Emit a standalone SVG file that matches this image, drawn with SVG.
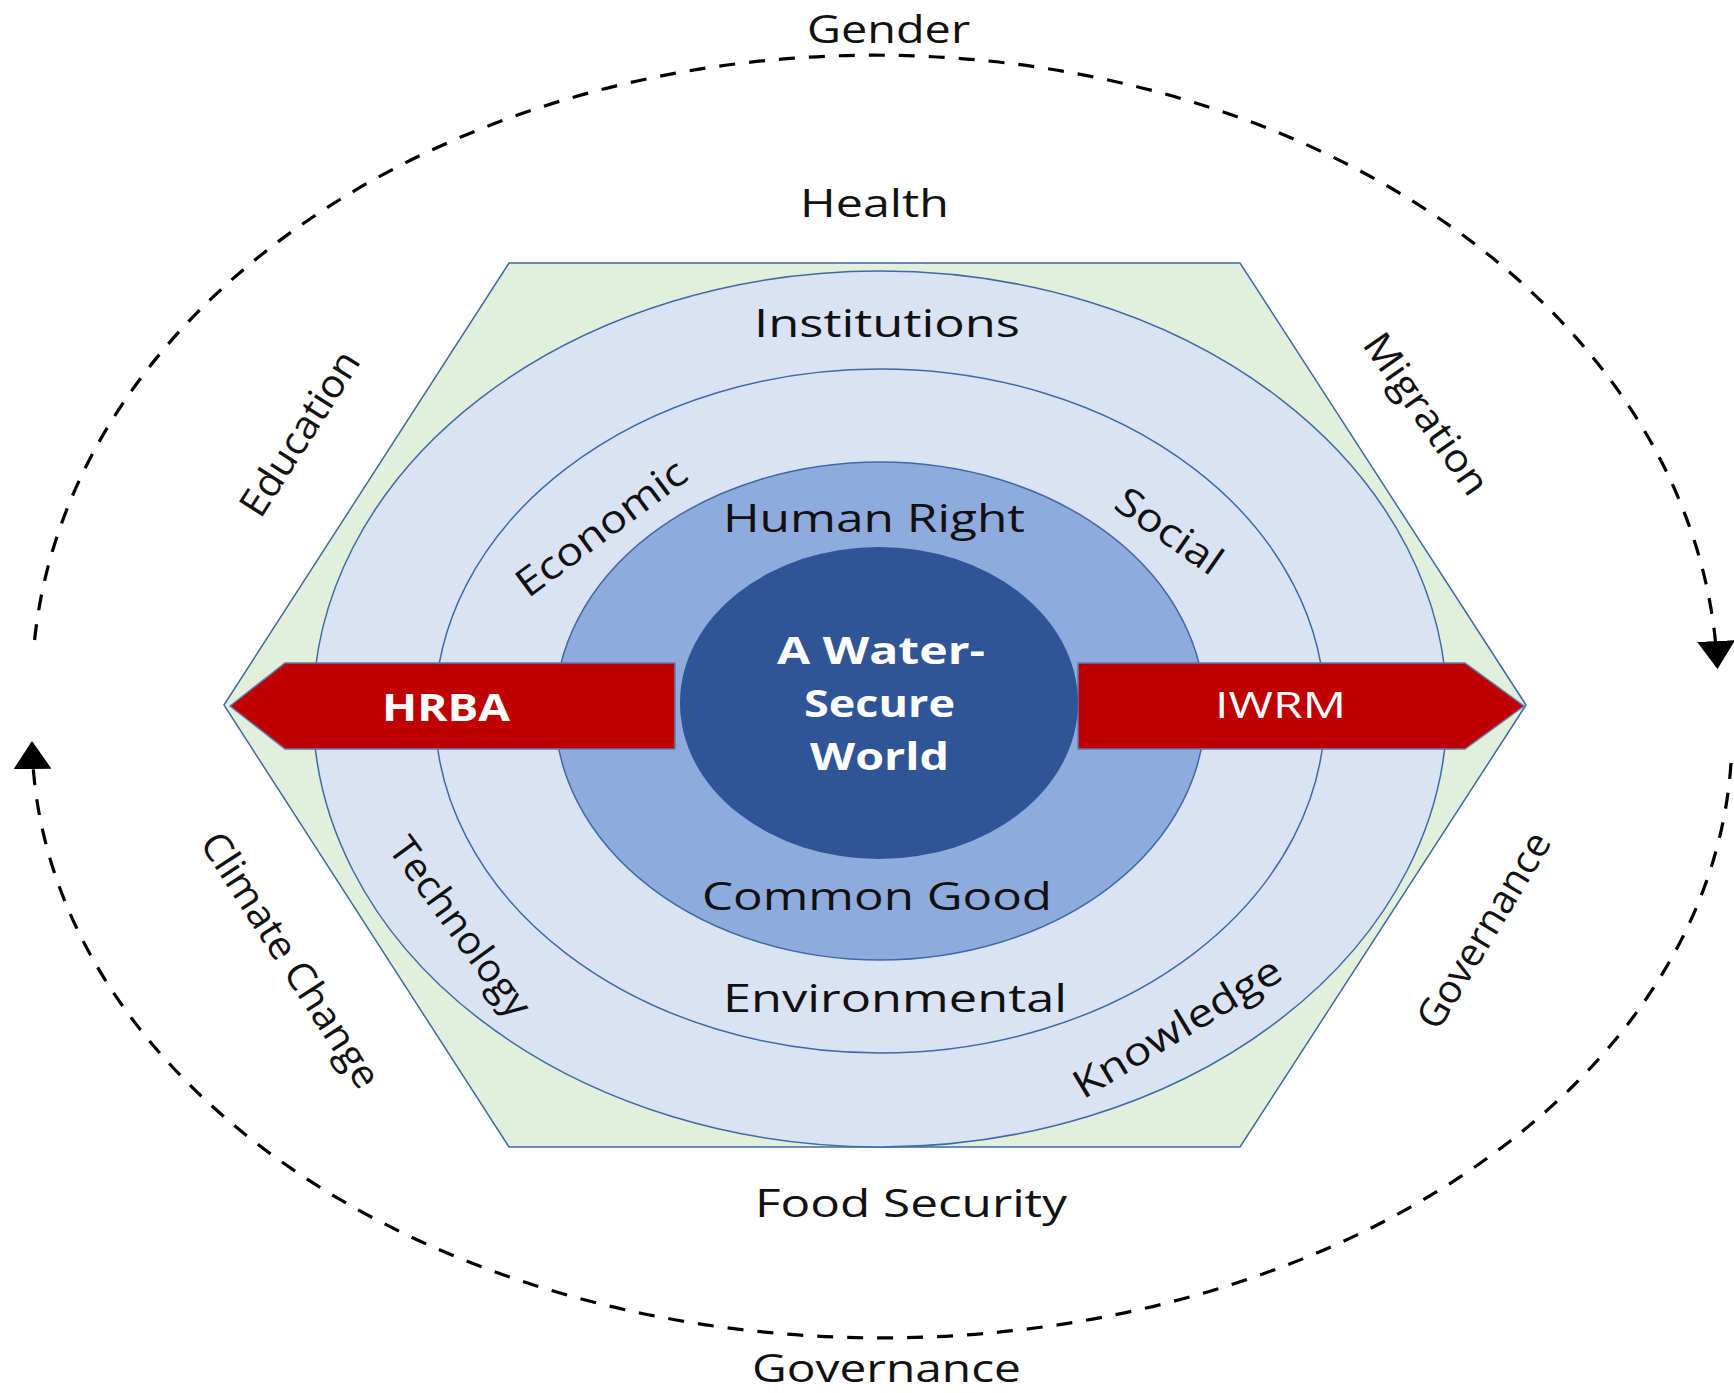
<svg xmlns="http://www.w3.org/2000/svg" width="1734" height="1393" viewBox="0 0 1734 1393">
<defs>
<style>
.t{font-family:"Open Sans","Noto Sans","Liberation Sans",sans-serif;font-size:39px;fill:#111;}
.w{font-family:"Open Sans","Noto Sans","Liberation Sans",sans-serif;font-size:37px;fill:#fff;font-weight:bold;}
.ring{stroke:#3E6AA8;stroke-width:1.5;}
.dash{fill:none;stroke:#000;stroke-width:3.2;stroke-dasharray:16 14;}
.arr{fill:#C00000;stroke:#5B7DB1;stroke-width:1.5;}
</style>
<marker id="ah" markerUnits="userSpaceOnUse" markerWidth="28" markerHeight="38" viewBox="0 0 28 38" refX="26" refY="19" orient="auto">
<path d="M0,0 L28,19 L0,38 z" fill="#000"/>
</marker>
</defs>
<rect width="1734" height="1393" fill="#fff"/>

<g id="connectors">
<path class="dash" d="M 34.6 640 A 843 635 0 0 1 1717.4 667" marker-end="url(#ah)"/>
<path class="dash" d="M 1731 763 A 850 603 0 0 1 32 743" marker-end="url(#ah)"/>
</g>

<g id="hexagon">
<polygon points="224,705 509,263 1240,263 1526,705 1240,1147 509,1147" fill="#E2EFDA" class="ring"/>
</g>
<g id="ring-outer">
<ellipse cx="880" cy="709" rx="567" ry="438" fill="#DAE3F3" class="ring"/>
</g>
<g id="ring-middle">
<ellipse cx="880" cy="711" rx="445" ry="342" fill="#DAE3F3" class="ring"/>
</g>
<g id="ring-inner">
<ellipse cx="880" cy="711" rx="325" ry="249" fill="#8FAADC" class="ring"/>
</g>
<g id="arrow-hrba">
<polygon class="arr" points="230,706 285,663 675,663 675,749 285,749"/>
<text class="w" x="382" y="721" textLength="128" lengthAdjust="spacingAndGlyphs">HRBA</text>
</g>
<g id="arrow-iwrm">
<polygon class="arr" points="1078,663 1465,663 1524,706 1465,749 1078,749"/>
<text class="w" style="font-weight:normal" x="1215" y="718" textLength="131" lengthAdjust="spacingAndGlyphs">IWRM</text>
</g>
<g id="core">
<ellipse cx="879" cy="703" rx="199" ry="156" fill="#2F5597"/>
<text class="w" x="777" y="664" textLength="208" lengthAdjust="spacingAndGlyphs">A Water-</text>
<text class="w" x="804" y="717" textLength="151" lengthAdjust="spacingAndGlyphs">Secure</text>
<text class="w" x="810" y="770" textLength="139" lengthAdjust="spacingAndGlyphs">World</text>
</g>

<g id="labels-inner">
<text class="t" x="723" y="532" textLength="302" lengthAdjust="spacingAndGlyphs">Human Right</text>
<text class="t" x="702" y="910" textLength="350" lengthAdjust="spacingAndGlyphs">Common Good</text>
</g>
<g id="labels-middle">
<text class="t" x="723" y="1012" textLength="344" lengthAdjust="spacingAndGlyphs">Environmental</text>
<text class="t" transform="translate(602,529) rotate(-36.5)" x="-101" y="12" textLength="202" lengthAdjust="spacingAndGlyphs">Economic</text>
<text class="t" transform="translate(1168,532) rotate(35)" x="-60" y="12" textLength="121" lengthAdjust="spacingAndGlyphs">Social</text>
</g>
<g id="labels-outer">
<text class="t" x="754" y="337" textLength="266" lengthAdjust="spacingAndGlyphs">Institutions</text>
<text class="t" transform="translate(456,930) rotate(54)" x="-106" y="8" textLength="212" lengthAdjust="spacingAndGlyphs">Technology</text>
<text class="t" transform="translate(1180,1032) rotate(-31)" x="-118" y="8" textLength="236" lengthAdjust="spacingAndGlyphs">Knowledge</text>
</g>
<g id="labels-hexagon">
<text class="t" x="800" y="217" textLength="149" lengthAdjust="spacingAndGlyphs">Health</text>
<text class="t" x="755" y="1217" textLength="312" lengthAdjust="spacingAndGlyphs">Food Security</text>
<text class="t" transform="translate(301,434) rotate(-57.5)" x="-94" y="12" textLength="188" lengthAdjust="spacingAndGlyphs">Education</text>
<text class="t" transform="translate(1422,417) rotate(55)" x="-94" y="8" textLength="188" lengthAdjust="spacingAndGlyphs">Migration</text>
<text class="t" transform="translate(286,963) rotate(57.2)" x="-148" y="8" textLength="296" lengthAdjust="spacingAndGlyphs">Climate Change</text>
<text class="t" transform="translate(1485,931) rotate(-59)" x="-111" y="12" textLength="222" lengthAdjust="spacingAndGlyphs">Governance</text>
</g>
<g id="labels-cycle">
<text class="t" x="807" y="43" textLength="163" lengthAdjust="spacingAndGlyphs">Gender</text>
<text class="t" x="752" y="1382" textLength="269" lengthAdjust="spacingAndGlyphs">Governance</text>
</g>
</svg>
